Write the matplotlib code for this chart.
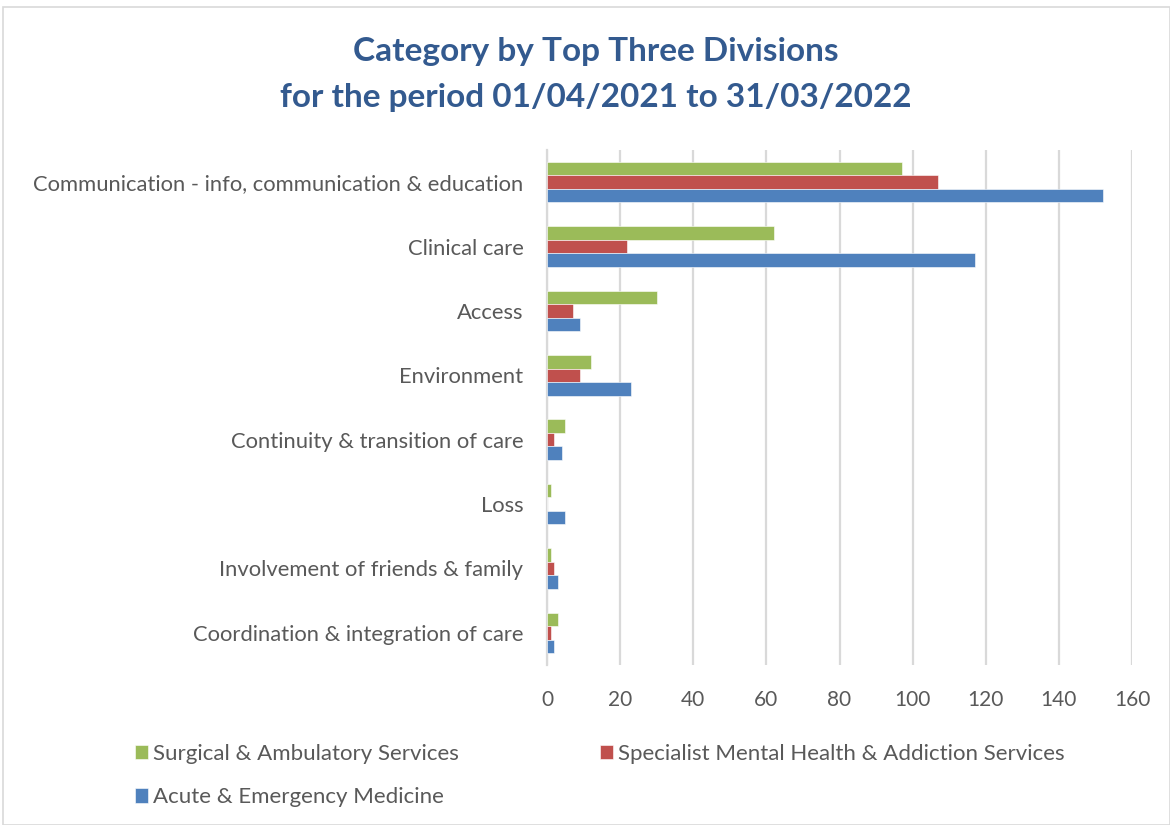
import matplotlib.pyplot as plt
import numpy as np
from matplotlib.patches import Rectangle

# Complaint categories for the three busiest divisions
categories = [
    "Communication - info, communication & education",
    "Clinical care",
    "Access",
    "Environment",
    "Continuity & transition of care",
    "Loss",
    "Involvement of friends & family",
    "Coordination & integration of care",
]
surgical = [97, 62, 30, 12, 5, 1, 1, 3]
mental_health = [107, 22, 7, 9, 2, 0, 2, 1]
acute = [152, 117, 9, 23, 4, 5, 3, 2]

series_names = [
    "Surgical & Ambulatory Services",
    "Specialist Mental Health & Addiction Services",
    "Acute & Emergency Medicine",
]
colors = ["#9BBB59", "#C0504D", "#4F81BD"]
x_ticks = [0, 20, 40, 60, 80, 100, 120, 140, 160]

plt.rcParams["font.family"] = ["Lato", "DejaVu Sans"]
text_color = "#595959"

fig = plt.figure(figsize=(11.7, 8.25), dpi=100)
ax = fig.add_axes([547 / 1170, 1 - 665 / 825, (1132 - 547) / 1170, (665 - 150) / 825])

y = np.arange(len(categories))
h = 0.21
bars = []
for i, (vals, col) in enumerate(zip([surgical, mental_health, acute], colors)):
    b = ax.barh(y + (i - 1) * h, vals, height=h, color=col, zorder=3,
                edgecolor="white", linewidth=0.4)
    bars.append(b)

ax.set_ylim(len(categories) - 0.5, -0.5)
ax.set_xlim(0, 160)
ax.set_xticks(x_ticks)
ax.set_yticks(y)
ax.set_yticklabels(categories)
ax.tick_params(axis="both", length=0, colors=text_color)
ax.tick_params(axis="x", pad=18, labelsize=15)
ax.tick_params(axis="y", pad=17, labelsize=15.8)
ax.grid(axis="x", color="#D9D9D9", linewidth=1.6, zorder=0)
for side in ["top", "right", "bottom"]:
    ax.spines[side].set_visible(False)
ax.spines["left"].set_color("#D9D9D9")
ax.spines["left"].set_linewidth(1.6)

title_x = 596 / 1170
fig.text(title_x, 1 - 51 / 825, "Category by Top Three Divisions", ha="center", va="center",
         fontsize=24, fontweight="bold", color="#335A8F")
fig.text(title_x, 1 - 98 / 825, "for the period 01/04/2021 to 31/03/2022", ha="center",
         va="center", fontsize=24, fontweight="bold", color="#335A8F")

# legend: two columns, third entry wraps to the second row
leg = fig.legend([bars[0], bars[2], bars[1]],
                 [series_names[0], series_names[2], series_names[1]],
                 ncol=2, loc="upper left", bbox_to_anchor=(115 / 1170, 1 - 724 / 825),
                 frameon=False, fontsize=16, handlelength=0.6, handleheight=0.6,
                 handletextpad=0.2, columnspacing=6.35, labelspacing=1.05,
                 labelcolor=text_color)

# light chart border
fig.patches.append(Rectangle((3 / 1170, 0), 1 - 3 / 1170, 1 - 7 / 825, transform=fig.transFigure,
                             fill=False, edgecolor="#D9D9D9", linewidth=1.2))

fig.savefig("out.png", dpi=100)
